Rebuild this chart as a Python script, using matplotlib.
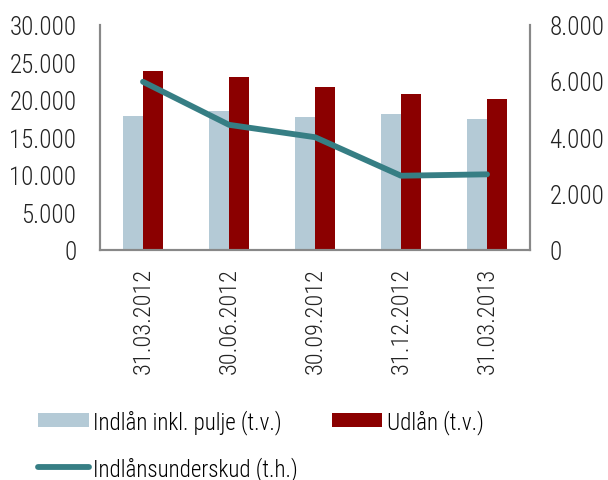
import matplotlib
matplotlib.use("Agg")
import matplotlib.pyplot as plt
import numpy as np
from matplotlib.ticker import FuncFormatter

categories = ["31.03.2012", "30.06.2012", "30.09.2012", "31.12.2012", "31.03.2013"]
indlaan = [17830, 18530, 17690, 18050, 17430]
udlaan = [23790, 22990, 21650, 20720, 20130]
underskud = [5970, 4440, 4000, 2630, 2680]

plt.rcParams['font.family'] = ['Roboto Condensed', 'DejaVu Sans']
plt.rcParams['font.weight'] = 'light'

fig = plt.figure(figsize=(6.08, 4.81), dpi=100)
ax = fig.add_axes([100/608, 1 - 250.7/481, 430/608, 225/481])
ax2 = ax.twinx()

x = np.arange(len(categories))
w = 0.2326
b1 = ax.bar(x - w/2, indlaan, w, color='#B4CAD6', label='Indlån inkl. pulje (t.v.)')
b2 = ax.bar(x + w/2, udlaan, w, color='#8B0000', label='Udlån (t.v.)')
l1, = ax2.plot(x, underskud, color='#367E84', lw=4.2, solid_capstyle='round', label='Indlånsunderskud (t.h.)')

ax.set_xlim(-0.5, 4.5)
ax.set_ylim(0, 30000)
ax.set_yticks(range(0, 30001, 5000))
ax2.set_ylim(0, 8000)
ax2.set_yticks(range(0, 8001, 2000))
fmt = FuncFormatter(lambda v, p: f"{int(v):,}".replace(",", "."))
ax.yaxis.set_major_formatter(fmt)
ax2.yaxis.set_major_formatter(fmt)
ax.set_xticks(x)
ax.set_xticklabels(categories, rotation=90)

for a in (ax, ax2):
    a.spines['top'].set_visible(False)
    for s in ('left', 'right', 'bottom'):
        a.spines[s].set_color('#888888')
        a.spines[s].set_linewidth(1.5)
    a.tick_params(length=0, labelsize=18, colors='#222222')
ax.tick_params(axis='y', pad=17)
ax2.tick_params(axis='y', pad=14)
ax.tick_params(axis='x', pad=12.5, labelsize=17.5)

fig.legend([b1, l1, b2], [b1.get_label(), l1.get_label(), b2.get_label()],
           ncol=2, loc='upper left', bbox_to_anchor=(38/608, 1 - 410/481),
           frameon=False, fontsize=16.6, handlelength=2.2, handleheight=0.58,
           handletextpad=0.2, columnspacing=1.45, labelspacing=0.95,
           borderaxespad=0, borderpad=0)

fig.savefig("out.png", dpi=100)
